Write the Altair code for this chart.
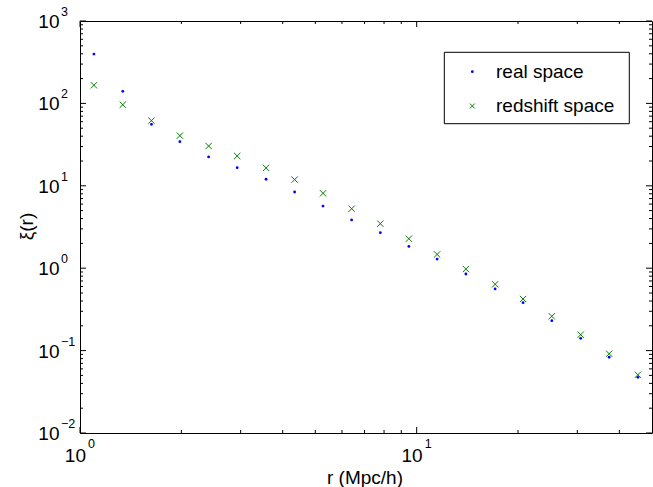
import altair as alt
import pandas as pd

# ---- data ----
r_vals = [1.10, 1.34, 1.63, 1.98, 2.41, 2.93, 3.57, 4.34, 5.27, 6.41,
          7.80, 9.48, 11.5, 14.0, 17.1, 20.7, 25.2, 30.7, 37.3, 45.4]
xi_real = [397, 140, 55.7, 34.3, 22.4, 16.6, 12.0, 8.41, 5.68, 3.85,
           2.70, 1.84, 1.29, 0.851, 0.560, 0.382, 0.231, 0.141, 0.083, 0.0474]
xi_redshift = [166, 96.4, 61.7, 40.6, 30.4, 23.0, 16.5, 11.9, 8.11, 5.27,
               3.47, 2.28, 1.47, 0.977, 0.638, 0.423, 0.261, 0.156, 0.0917, 0.0509]

series_names = ["real space", "redshift space"]

x_major = [1, 10]
x_major_exp = ["0", "1"]
x_minor = [2, 3, 4, 5, 6, 7, 8, 9, 20, 30, 40]
y_major = [0.01, 0.1, 1, 10, 100, 1000]
y_major_exp = ["\u22122", "\u22121", "0", "1", "2", "3"]
y_minor_mult = [2, 3, 4, 5, 6, 7, 8, 9]
y_minor_decades = [0.01, 0.1, 1, 10, 100]
y_minor = [m * d for d in y_minor_decades for m in y_minor_mult]

x_title = "r (Mpc/h)"
y_title = "\u03be(r)"

W, H = 572, 412
FONT = "Liberation Sans"
FS = 19
EXP_FS = 12.5
BLUE = "#0000ff"
GREEN = "#008000"
XSHAPE = "M-1,-1L1,1M-1,1L1,-1"

xscale = alt.Scale(type="log", domain=[1, 50], nice=False, zero=False)
yscale = alt.Scale(type="log", domain=[0.01, 1000], nice=False, zero=False)

pts = pd.DataFrame({"r": r_vals, "real": xi_real, "red": xi_redshift})

real_layer = alt.Chart(pts).mark_circle(size=8, color=BLUE, opacity=1).encode(
    x=alt.X("r:Q", scale=xscale, axis=None),
    y=alt.Y("real:Q", scale=yscale, axis=None),
)
red_layer = alt.Chart(pts).mark_point(
    shape=XSHAPE, size=40, color=GREEN, strokeWidth=1, filled=False, opacity=1
).encode(
    x=alt.X("r:Q", scale=xscale, axis=None),
    y=alt.Y("red:Q", scale=yscale, axis=None),
)

layers = []

# ---- ticks (inward, on all four sides) ----
def xticks(vals, length):
    df = pd.DataFrame({"v": vals})
    base = alt.Chart(df).mark_rule(color="black", strokeWidth=1)
    enc_x = alt.X("v:Q", scale=xscale, axis=None)
    return [
        base.encode(x=enc_x, y=alt.value(H), y2=alt.value(H - length)),
        base.encode(x=enc_x, y=alt.value(0), y2=alt.value(length)),
    ]

def yticks(vals, length):
    df = pd.DataFrame({"v": vals})
    base = alt.Chart(df).mark_rule(color="black", strokeWidth=1)
    enc_y = alt.Y("v:Q", scale=yscale, axis=None)
    return [
        base.encode(y=enc_y, x=alt.value(0), x2=alt.value(length)),
        base.encode(y=enc_y, x=alt.value(W), x2=alt.value(W - length)),
    ]

layers += xticks(x_major, 6) + xticks(x_minor, 3)
layers += yticks(y_major, 6) + yticks(y_minor, 3)

# ---- tick labels with superscript exponents ----
ylab = pd.DataFrame({"v": y_major, "base": ["10"] * len(y_major), "exp": y_major_exp})
layers.append(
    alt.Chart(ylab).mark_text(align="right", baseline="alphabetic", dy=7,
                              font=FONT, fontSize=FS, color="black").encode(
        y=alt.Y("v:Q", scale=yscale, axis=None), x=alt.value(-20.5), text="base:N")
)
layers.append(
    alt.Chart(ylab).mark_text(align="left", baseline="alphabetic", dy=-5,
                              font=FONT, fontSize=EXP_FS, color="black").encode(
        y=alt.Y("v:Q", scale=yscale, axis=None), x=alt.value(-19), text="exp:N")
)

xlab = pd.DataFrame({"v": x_major, "base": ["10"] * len(x_major), "exp": x_major_exp})
layers.append(
    alt.Chart(xlab).mark_text(align="right", baseline="alphabetic", dx=6,
                              font=FONT, fontSize=FS, color="black").encode(
        x=alt.X("v:Q", scale=xscale, axis=None), y=alt.value(441.3), text="base:N")
)
layers.append(
    alt.Chart(xlab).mark_text(align="left", baseline="alphabetic", dx=8,
                              font=FONT, fontSize=EXP_FS, color="black").encode(
        x=alt.X("v:Q", scale=xscale, axis=None), y=alt.value(427), text="exp:N")
)

# ---- axis titles ----
layers.append(
    alt.Chart(pd.DataFrame({"t": [x_title]})).mark_text(
        align="center", baseline="alphabetic", font=FONT, fontSize=FS, color="black"
    ).encode(x=alt.value(285), y=alt.value(463), text="t:N")
)
layers.append(
    alt.Chart(pd.DataFrame({"t": [y_title]})).mark_text(
        align="center", baseline="alphabetic", angle=270, font=FONT, fontSize=FS, color="black"
    ).encode(x=alt.value(-47), y=alt.value(205.5), text="t:N")
)

# ---- legend ----
one = pd.DataFrame({"k": [0]})
layers.append(
    alt.Chart(one).mark_rect(fill="white", stroke="black", strokeWidth=1).encode(
        x=alt.value(364.3), x2=alt.value(549.3), y=alt.value(31.3), y2=alt.value(102.7))
)
layers.append(
    alt.Chart(one).mark_circle(size=8, color=BLUE, opacity=1).encode(
        x=alt.value(392.3), y=alt.value(50.7))
)
layers.append(
    alt.Chart(one).mark_point(shape=XSHAPE, size=24, color=GREEN, strokeWidth=1,
                              filled=False, opacity=1).encode(
        x=alt.value(392.3), y=alt.value(85))
)
leg = pd.DataFrame({"t": series_names})
layers.append(
    alt.Chart(leg.iloc[[0]]).mark_text(align="left", baseline="alphabetic", font=FONT,
                                       fontSize=FS, color="black").encode(
        x=alt.value(416), y=alt.value(57.3), text="t:N")
)
layers.append(
    alt.Chart(leg.iloc[[1]]).mark_text(align="left", baseline="alphabetic", font=FONT,
                                       fontSize=FS, color="black").encode(
        x=alt.value(416), y=alt.value(90.7), text="t:N")
)

chart = alt.layer(*layers, real_layer, red_layer).properties(
    width=W, height=H,
    padding={"left": 80, "top": 21, "right": 1, "bottom": 54},
    autosize=alt.AutoSizeParams(type="none"),
    background="white",
).configure_view(stroke="black", strokeWidth=1)

chart.save("out.html", embed_options={"renderer": "svg", "actions": False})
